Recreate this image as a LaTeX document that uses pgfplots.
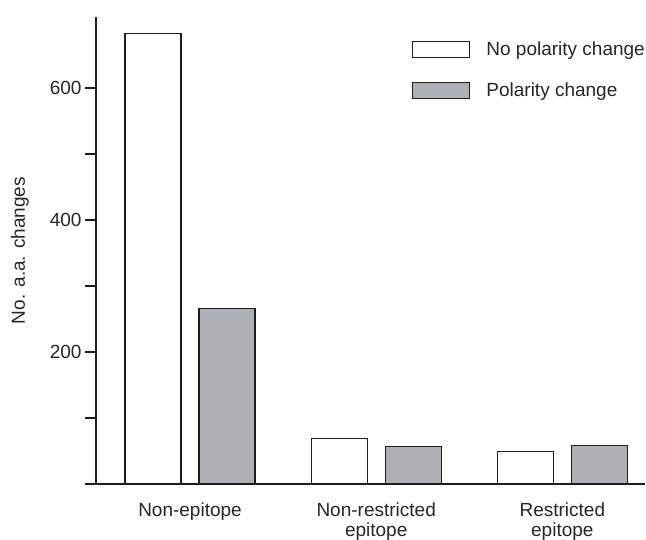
\documentclass[border=0pt]{standalone}
\usepackage{pgfplots}
\pgfplotsset{compat=1.18}
\usepackage{fontspec}
\setmainfont{Liberation Sans}
\usetikzlibrary{calc}
\definecolor{barg}{HTML}{AFB0B3}
\definecolor{edge}{HTML}{1E1E1E}
\begin{document}
\begin{tikzpicture}
\begin{axis}[
  scale only axis,
  width=549pt, height=467pt,
  xmin=-0.505, xmax=2.444,
  ymin=0, ymax=707.5,
  axis x line*=bottom, axis y line*=left,
  axis line style={edge, line width=1.3pt},
  ybar, bar width=56pt,
  xtick={0,1,2},
  xticklabels={Non-epitope,Non-restricted\\epitope,Restricted\\epitope},
  x tick style={draw=none},
  xticklabel style={align=center, yshift=-4pt},
  ytick={200,400,600},
  minor ytick={0,100,300,500},
  tick align=outside,
  major tick length=11pt, minor tick length=11pt,
  y tick style={edge, line width=1.2pt},
  minor y tick style={edge, line width=1.2pt},
  /pgf/number format/assume math mode=true,
  tick label style={font=\fontsize{19}{20}\selectfont, text=black!85},
  ylabel={No. a.a. changes},
  ylabel style={at={(axis description cs:-0.1157,0.5)}, anchor=south, font=\fontsize{19}{20}\selectfont, text=black!85},
  legend image code/.code={\draw[#1, line width=1.2pt] (0pt,-8pt) rectangle (57pt,8pt);},
  legend style={at={(rel axis cs:0.576,0.949)}, anchor=north west, draw=none, fill=none,
    inner sep=0pt, outer sep=0pt, font=\fontsize{19}{20}\selectfont, text=black!85,
    row sep=24pt, column sep=16pt, nodes={inner sep=0pt}},
  legend cell align=left,
  clip=false,
]
\addplot+[ybar, bar shift=-37pt, fill=white, draw=edge, line width=1.3pt] coordinates {(0,682) (1,68.6) (2,49)};
\addplot+[ybar, bar shift=37pt, fill=barg, draw=edge, line width=1.3pt] coordinates {(0,265.5) (1,57.1) (2,58.6)};
\legend{No polarity change, Polarity change}
\end{axis}
\pgfresetboundingbox
\path ($(current axis.south west)+(-96pt,-56pt)$) rectangle ($(current axis.north east)+(1pt,17pt)$);
\end{tikzpicture}
\end{document}
